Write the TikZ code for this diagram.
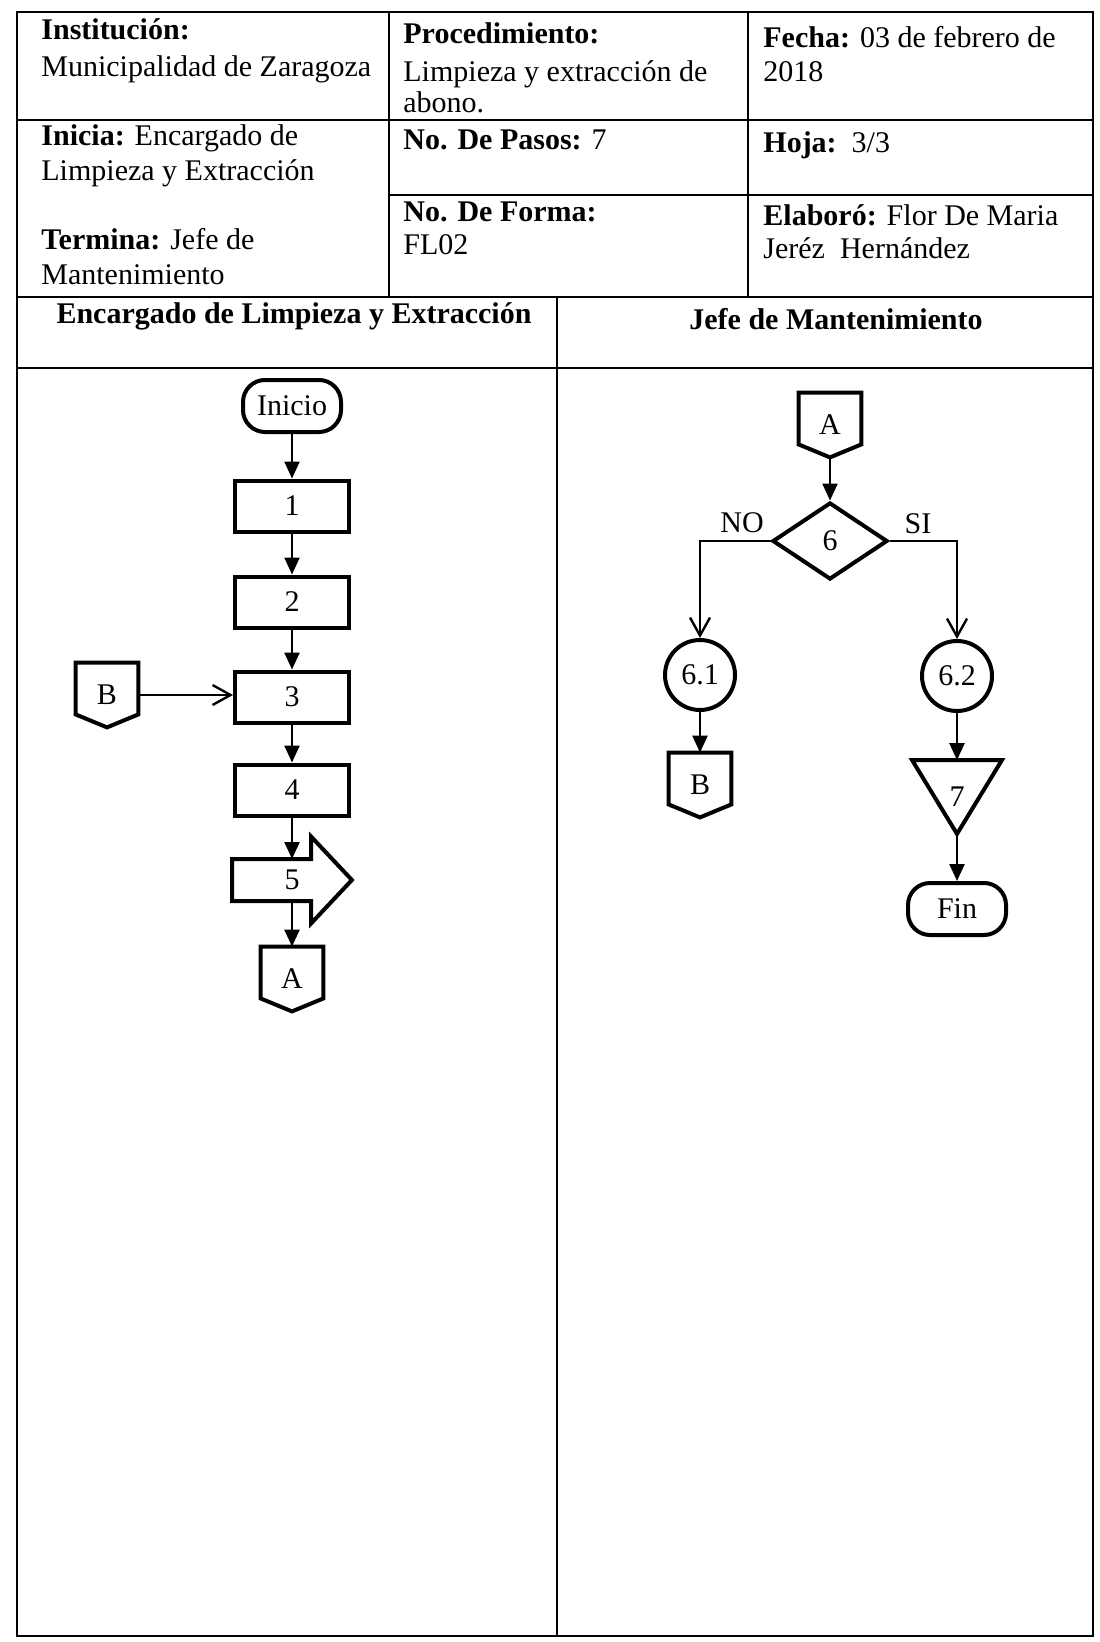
\documentclass[tikz,border=0pt]{standalone}
\usepackage{fontspec}
\setmainfont{Liberation Serif}
\usetikzlibrary{shapes.geometric,arrows.meta,calc}

\begin{document}
\begin{tikzpicture}[x=0.5pt,y=-0.5pt,
  font=\fontsize{15}{17.3}\selectfont,
  frameline/.style={line width=1.1pt},
  txt/.style={anchor=base west,inner sep=0pt},
  lanehead/.style={anchor=base,inner sep=0pt,font=\fontsize{15}{17.3}\selectfont\bfseries},
  shapeline/.style={line width=2pt},
  terminal/.style={draw,shapeline,rectangle,rounded corners=11pt,minimum width=49pt,minimum height=26pt,inner sep=0pt},
  proc/.style={draw,shapeline,rectangle,minimum width=57pt,minimum height=25.5pt,inner sep=0pt},
  offpage/.style={rectangle,minimum width=31pt,minimum height=32pt,inner sep=0pt},
  decision/.style={draw,shapeline,diamond,minimum width=57.5pt,minimum height=38.5pt,inner sep=0pt},
  linkcirc/.style={draw,shapeline,circle,minimum size=35pt,inner sep=0pt},
  flow/.style={line width=1.2pt,-{Triangle[length=8.5pt,width=7.5pt]}},
  openflow/.style={line width=1.2pt,-{Straight Barb[length=9pt,width=10pt]}}]
\useasboundingbox (0,0) rectangle (1099,1642);

% header table
\draw[frameline] (17,12) rectangle (1093,1636);
\draw[frameline] (17,120) -- (1093,120);
\draw[frameline] (389,195) -- (1093,195);
\draw[frameline] (17,297) -- (1093,297);
\draw[frameline] (17,368) -- (1093,368);
\draw[frameline] (389,12) -- (389,297);
\draw[frameline] (748,12) -- (748,297);
\draw[frameline] (557,297) -- (557,1636);

\node[txt] (tInst) at (41,40) {\textbf{Institución:}};
\node[txt] (tMuni) at (41,77) {Municipalidad de Zaragoza};
\node[txt] (tProc) at (403,44) {\textbf{Procedimiento:}};
\node[txt] (tLimp) at (403,82) {Limpieza y extracción de};
\node[txt] (tAbon) at (403,113) {abono.};
\node[txt] (tFech) at (763,48) {\textbf{Fecha:} 03 de febrero de};
\node[txt] (tAnio) at (763,82) {2018};
\node[txt] (tInic) at (41,146) {\textbf{Inicia:} Encargado de};
\node[txt] (tLimE) at (41,181) {Limpieza y Extracción};
\node[txt] (tTerm) at (41,250) {\textbf{Termina:} Jefe de};
\node[txt] (tMant) at (41,285) {Mantenimiento};
\node[txt] (tPaso) at (403,150) {\textbf{No. De Pasos:} 7};
\node[txt] (tHoja) at (763,153) {\textbf{Hoja:}\ \ 3/3};
\node[txt] (tForm) at (403,222) {\textbf{No. De Forma:}};
\node[txt] (tFL02) at (403,255) {FL02};
\node[txt] (tElab) at (763,226) {\textbf{Elaboró:} Flor De Maria};
\node[txt] (tJere) at (763,259) {Jeréz\ \ Hernández};

\node[lanehead] (hEnc) at (294,324) {Encargado de Limpieza y Extracción};
\node[lanehead] (hJef) at (836,330) {Jefe de Mantenimiento};

% left lane
\node[terminal] (ini) at (292,406) {Inicio};
\node[proc] (p1) at (292,506) {1};
\node[proc] (p2) at (292,602) {2};
\node[proc] (p3) at (292,697) {3};
\node[proc] (p4) at (292,790) {4};
\node[inner sep=0pt,minimum width=59.5pt,minimum height=43pt] (p5) at (292,880) {5};
\node[offpage] (cA1) at (292,979) {A};
\node[offpage] (cB1) at (107,695) {B};
\coordinate (p5top) at ([yshift=10.5pt]p5.center);
\coordinate (p5bot) at ([yshift=-10.5pt]p5.center);

% right lane
\node[offpage] (cA2) at (830,425) {A};
\node[decision] (d6) at (830,541) {6};
\node[linkcirc] (c61) at (700,675) {6.1};
\node[linkcirc] (c62) at (957,676) {6.2};
\node[offpage] (cB2) at (700,785) {B};
\node[inner sep=0pt,minimum width=44.5pt,minimum height=36.5pt] (p7) at (957,797) {7};
\node[terminal] (fin) at (957,909) {Fin};
\node (lNo) at (742,523) {NO};
\node (lSi) at (918,524) {SI};

% outlines
\foreach \c in {cA1,cB1,cA2,cB2}
  \draw[shapeline] (\c.north west) -- (\c.north east) -- ([yshift=6.5pt]\c.south east)
    -- (\c.south) -- ([yshift=6.5pt]\c.south west) -- cycle;
\draw[shapeline] ([yshift=10.5pt]p5.west) -- ([xshift=39.5pt,yshift=10.5pt]p5.west)
  -- ([xshift=39.5pt]p5.north west) -- (p5.east) -- ([xshift=39.5pt]p5.south west)
  -- ([xshift=39.5pt,yshift=-10.5pt]p5.west) -- ([yshift=-10.5pt]p5.west) -- cycle;
\draw[shapeline] (p7.north west) -- (p7.north east) -- (p7.south) -- cycle;

% connectors
\draw[flow] (ini.south) -- (p1.north);
\draw[flow] (p1.south) -- (p2.north);
\draw[flow] (p2.south) -- (p3.north);
\draw[flow] (p3.south) -- (p4.north);
\draw[flow] (p4.south) -- (p5top);
\draw[flow] (p5bot) -- (cA1.north);
\draw[openflow] (cB1.east) -- (cB1.east -| p3.west);
\draw[flow] (cA2.south) -- (d6.north);
\draw[openflow] (d6.west) -| (c61.north);
\draw[openflow] (d6.east) -| (c62.north);
\draw[flow] (c61.south) -- (cB2.north);
\draw[flow] (c62.south) -- (p7.north);
\draw[flow] (p7.south) -- (fin.north);
\end{tikzpicture}
\end{document}
